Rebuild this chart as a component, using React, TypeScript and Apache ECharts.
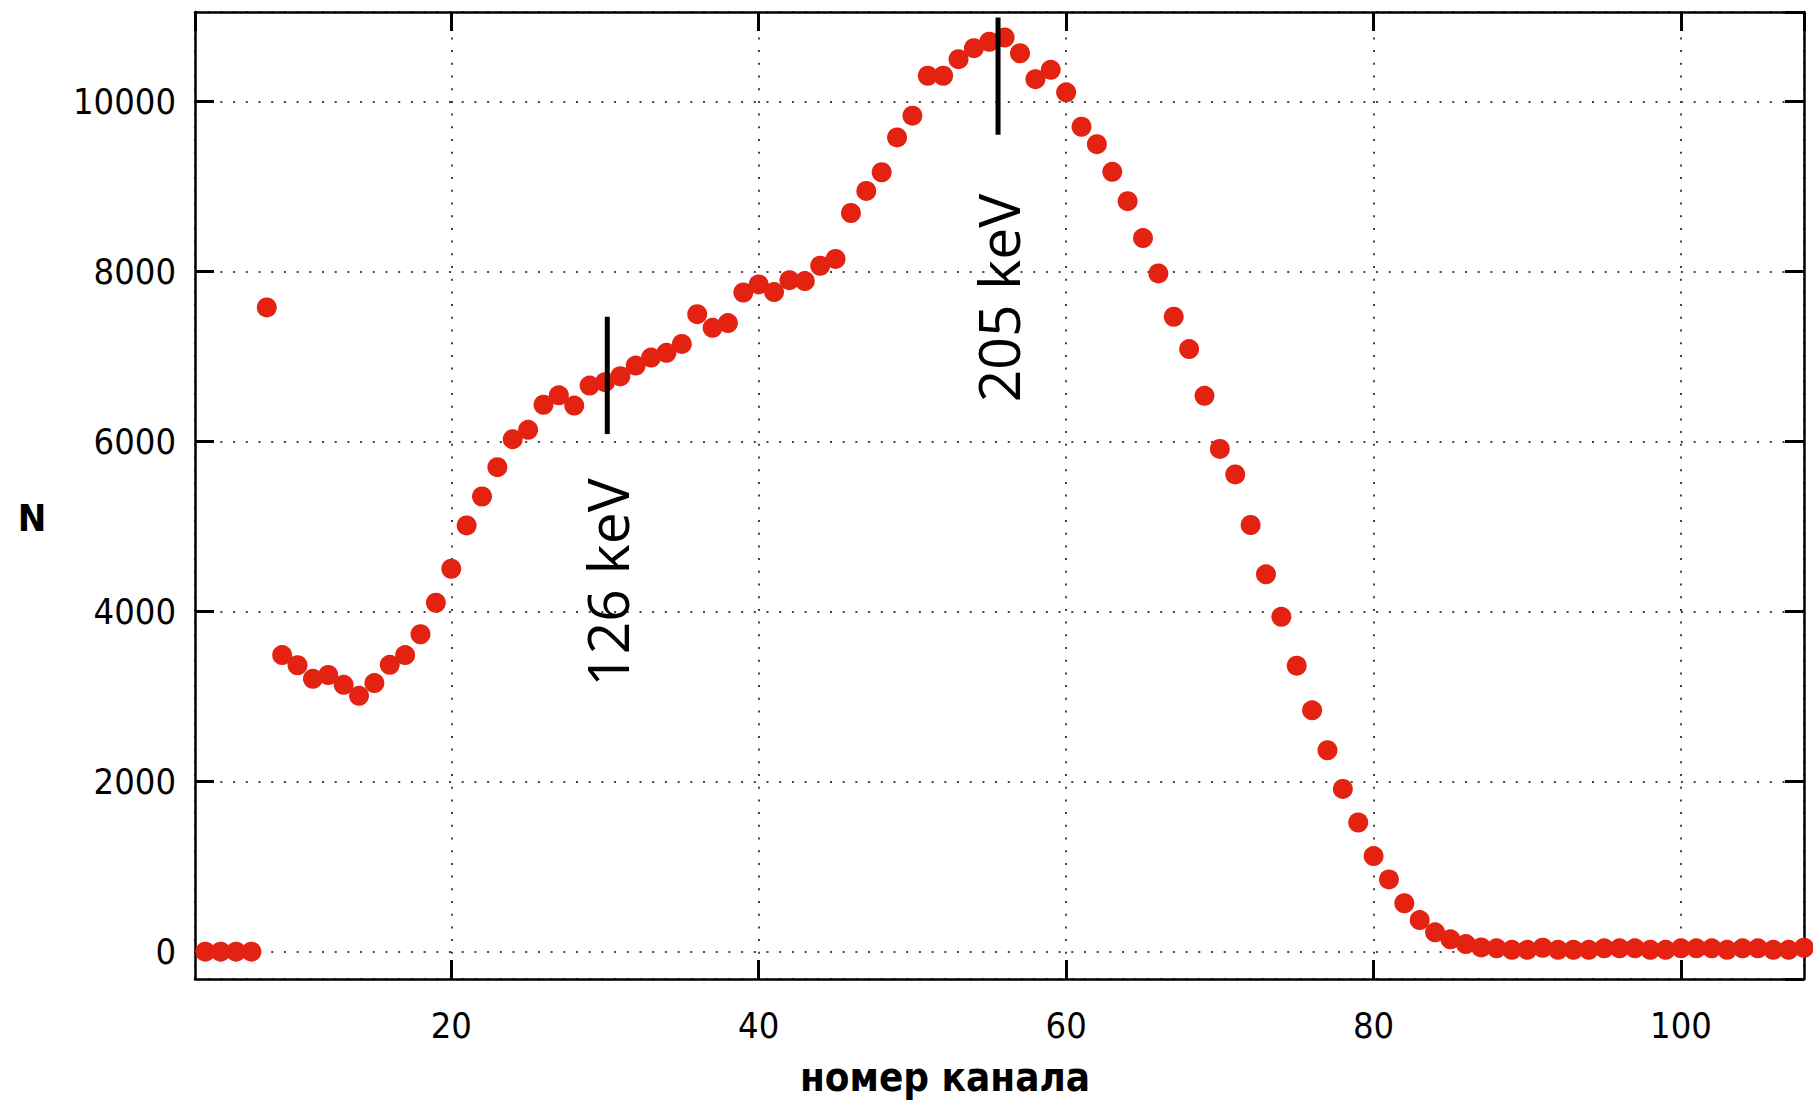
import React, { useEffect, useRef } from "react";
import * as echarts from "echarts";

// channel numbers (x) and counts N (y)
const channels: number[] = [];
for (let c = 4; c <= 108; c++) channels.push(c);

const counts: number[] = [
  0, 0, 0, 0, 7580, 3490, 3370, 3210, 3255, 3140, 3010, 3160, 3375, 3490, 3735, 4105,
  4505, 5015, 5355, 5700, 6030, 6140, 6435, 6545, 6425, 6660, 6700, 6770, 6895, 6990,
  7045, 7150, 7500, 7340, 7395, 7755, 7850, 7760, 7900, 7890, 8070, 8150, 8690, 8950,
  9170, 9580, 9835, 10305, 10305, 10500, 10630, 10705, 10755, 10570, 10265, 10375, 10110,
  9705, 9500, 9175, 8830, 8395, 7980, 7470, 7090, 6540, 5915, 5615, 5020, 4440, 3940,
  3365, 2840, 2370, 1915, 1520, 1125, 850, 570, 372, 228, 146, 90, 50, 40,
  22, 22, 47, 22, 22, 22, 40, 40, 40, 22, 22, 40, 40, 40, 22, 40, 40, 22, 22, 47,
];

// energy markers
const markerChannels = [30.15, 55.57];
const markerLow = [6090, 9610];
const markerHigh = [7470, 10990];
const markerLabels = ["126 keV", "205 keV"];
const markerLabelY = [4343, 7690];

const xMin = 3.33;
const xMax = 108;
const yMin = -321;
const yMax = 11055;

const tickFont = "'DejaVu Sans Condensed', 'Liberation Sans', sans-serif";
const red = "#e32212";

export default function App() {
  const ref = useRef<HTMLDivElement>(null);

  useEffect(() => {
    if (!ref.current) return;
    const chart = echarts.init(ref.current, null, { renderer: "svg" });

    const gridLine = {
      show: true,
      lineStyle: { color: "#444", width: 2, type: [2, 10.7] as any },
    };
    const frameLine = {
      show: true,
      onZero: false,
      lineStyle: { color: "#000", width: 2.5 },
    };
    const tick = {
      show: true,
      inside: true,
      length: 19,
      lineStyle: { color: "#000", width: 3 },
    };

    const markerSeries = markerChannels.map((x, i) => ({
      type: "line",
      xAxisIndex: 0,
      yAxisIndex: 0,
      data: [
        [x, markerLow[i]],
        [x, markerHigh[i]],
      ],
      symbol: "none",
      lineStyle: { color: "#000", width: 5, opacity: 1 },
      z: 5,
      silent: true,
    }));

    chart.setOption({
      animation: false,
      backgroundColor: "#fff",
      grid: { left: 195, right: 9, top: 12, bottom: 121, containLabel: false },
      xAxis: [
        {
          type: "value",
          min: xMin,
          max: xMax,
          splitNumber: 5,
          position: "bottom",
          axisLine: frameLine,
          axisTick: tick,
          axisLabel: {
            fontSize: 36,
            color: "#000",
            fontFamily: tickFont,
            margin: 28,
            showMinLabel: false,
            showMaxLabel: false,
            formatter: (v: number) => String(v),
          },
          splitLine: gridLine,
        },
        {
          type: "value",
          min: xMin,
          max: xMax,
          splitNumber: 5,
          position: "top",
          axisLine: frameLine,
          axisTick: tick,
          axisLabel: { show: false },
          splitLine: { show: false },
        },
      ],
      yAxis: [
        {
          type: "value",
          min: yMin,
          max: yMax,
          splitNumber: 5,
          position: "left",
          axisLine: frameLine,
          axisTick: tick,
          axisLabel: {
            fontSize: 36,
            color: "#000",
            fontFamily: tickFont,
            margin: 19,
            showMinLabel: false,
            showMaxLabel: false,
            formatter: (v: number) => String(v),
          },
          splitLine: gridLine,
        },
        {
          type: "value",
          min: yMin,
          max: yMax,
          splitNumber: 5,
          position: "right",
          axisLine: frameLine,
          axisTick: tick,
          axisLabel: { show: false },
          splitLine: { show: false },
        },
      ],
      graphic: [
        {
          type: "text",
          x: 32,
          y: 518,
          style: {
            text: "N",
            fill: "#000",
            fontSize: 38,
            fontWeight: "bold",
            fontFamily: tickFont,
            align: "center",
            verticalAlign: "middle",
          },
        },
        {
          type: "text",
          x: 945,
          y: 1077,
          style: {
            text: "номер канала",
            fill: "#000",
            fontSize: 40,
            fontWeight: "bold",
            fontFamily: tickFont,
            align: "center",
            verticalAlign: "middle",
          },
        },
      ],
      series: [
        {
          type: "scatter",
          data: channels.map((c, i) => [c, counts[i]]),
          symbol: "circle",
          symbolSize: 20,
          itemStyle: { color: red, opacity: 1 },
          z: 3,
          silent: true,
        },
        ...markerSeries,
        {
          type: "scatter",
          data: markerChannels.map((x, i) => ({
            value: [x, markerLabelY[i]],
            name: markerLabels[i],
          })),
          symbolSize: 1,
          itemStyle: { color: "rgba(0,0,0,0)", opacity: 1 },
          label: {
            show: true,
            position: "inside",
            rotate: 90,
            formatter: (p: any) => p.name,
            color: "#000",
            opacity: 1,
            fontSize: 57,
            fontFamily: "'Open Sans', 'Noto Sans', sans-serif",
          },
          z: 6,
          silent: true,
        },
      ],
    });

    return () => chart.dispose();
  }, []);

  return (
    <div
      ref={ref}
      style={{ position: "absolute", left: 0, top: 0, width: 1813, height: 1100, background: "#fff" }}
    />
  );
}
